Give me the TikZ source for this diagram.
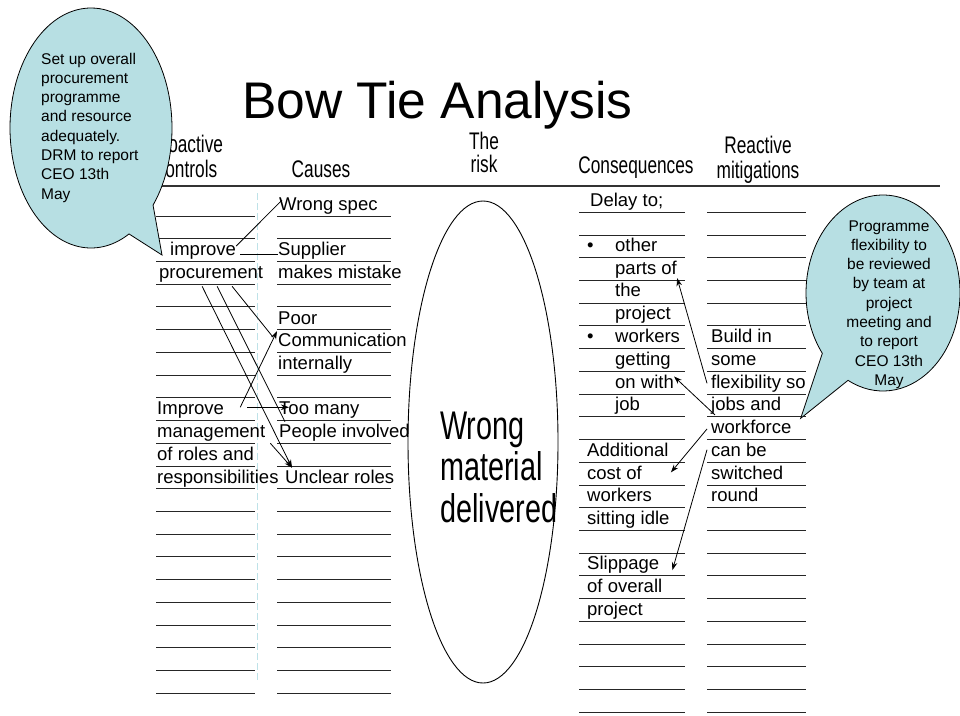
\documentclass[tikz,border=0pt]{standalone}
\usepackage{fontspec}
\setmainfont{Liberation Sans}
\newfontfamily\narrowfont[FakeStretch=0.72]{Liberation Sans}
\usetikzlibrary{arrows.meta}
\definecolor{bubblefill}{RGB}{183,223,227}
\definecolor{guideblue}{RGB}{190,226,232}

\begin{document}
\begin{tikzpicture}[x=1pt, y=-1pt,
        cell/.style={anchor=base west, inner sep=0pt,
                     font=\fontsize{18.5}{22}\selectfont},
        head/.style={inner sep=0pt, align=center,
                     font=\narrowfont\fontsize{24}{25}\selectfont},
        note/.style={inner sep=0pt, font=\fontsize{15.5}{19.3}\selectfont},
        rule/.style={line width=0.9pt, black!85},
        link/.style={line width=0.8pt},
        linkarrow/.style={link, -{Stealth[length=8pt, width=5.5pt]}},
        bubble/.style={draw=black, line width=0.8pt, fill=bubblefill}]
      \useasboundingbox (0,0) rectangle (960,715);

      % title and column heads
      \node[anchor=base, inner sep=0pt, font=\fontsize{51.5}{60}\selectfont]
            (title) at (437.5,118) {Bow Tie Analysis};
      \node[head, anchor=north] (proactive) at (187,134.8) {Proactive\\controls};
      \node[head, anchor=base] (causes) at (321,177) {Causes};
      \node[head, anchor=north, font=\narrowfont\fontsize{24}{23}\selectfont]
            (riskhead) at (484,131.8) {The\\risk};
      \node[head, anchor=base] (conseq) at (636,173) {Consequences};
      \node[head, anchor=north] (reactive) at (758,135.8) {Reactive\\mitigations};
      \draw[line width=1.2pt, black!80] (150,186) -- (940,186);
      \draw[guideblue, line width=1.2pt, dash pattern=on 7pt off 3pt]
            (257.7,193) -- (257.7,683);

      % ruled rows
      \foreach \k in {0,...,21} {
        \draw[rule] (156,{216+22.727*\k}) -- (255,{216+22.727*\k});
        \draw[rule] (277,{216+22.727*\k}) -- (391,{216+22.727*\k});
      }
      \foreach \k in {0,...,22} {
        \draw[rule] (579,{212.3+22.727*\k}) -- (685,{212.3+22.727*\k});
        \draw[rule] (707,{212.3+22.727*\k}) -- (806,{212.3+22.727*\k});
      }

      % the risk
      \draw[line width=0.9pt] (483,442) ellipse[x radius=75, y radius=241];
      \node[anchor=north west, inner sep=0pt, align=left,
            font=\narrowfont\fontsize{40}{41.5}\selectfont]
            (riskname) at (440,411.4) {Wrong\\material\\delivered};

      % proactive controls
      \node[cell] (improve) at (170,255.7) {improve};
      \node[cell] (procure) at (159,278.3) {procurement};
      \node[cell] (improvemgmt) at (157,414.7) {Improve};
      \node[cell] (manage) at (157,437.3) {management};
      \node[cell] (roles) at (157,460) {of roles and};
      \node[cell] (resp) at (157,483.3) {responsibilities};

      % causes
      \node[cell] (wrongspec) at (279,210) {Wrong spec};
      \node[cell] (supplier) at (278,255.7) {Supplier};
      \node[cell] (mistake) at (278,278.3) {makes mistake};
      \node[cell] (poor) at (278,324) {Poor};
      \node[cell] (comm) at (278,346.7) {Communication};
      \node[cell] (internal) at (278,369.7) {internally};
      \node[cell] (toomany) at (279,414.7) {Too many};
      \node[cell] (people) at (279,437.3) {People involved};
      \node[cell] (unclear) at (285,483.3) {Unclear roles};

      % consequences
      \node[cell] (delay) at (590,206.3) {Delay to;};
      \node[cell] (bulleta) at (587,251.3) {•};
      \node[cell] (other) at (615,251.3) {other};
      \node[cell] (parts) at (615,274) {parts of};
      \node[cell] (the) at (615,296.9) {the};
      \node[cell] (projecta) at (615,319.6) {project};
      \node[cell] (bulletb) at (587,342.7) {•};
      \node[cell] (workersa) at (615,342.7) {workers};
      \node[cell] (getting) at (615,365.4) {getting};
      \node[cell] (onwith) at (615,388.1) {on with};
      \node[cell] (job) at (615,410.9) {job};
      \node[cell] (additional) at (587,456.3) {Additional};
      \node[cell] (costof) at (587,479) {cost of};
      \node[cell] (workersb) at (587,501.8) {workers};
      \node[cell] (idle) at (587,524.5) {sitting idle};
      \node[cell] (slippage) at (587,569.9) {Slippage};
      \node[cell] (overall) at (587,592.7) {of overall};
      \node[cell] (projectb) at (587,615.4) {project};

      % reactive mitigations
      \node[cell] (buildin) at (711,342.7) {Build in};
      \node[cell] (some) at (711,365.4) {some};
      \node[cell] (flex) at (711,388.1) {flexibility so};
      \node[cell] (jobs) at (711,410.9) {jobs and};
      \node[cell] (workforce) at (711,433.6) {workforce};
      \node[cell] (canbe) at (711,456.3) {can be};
      \node[cell] (switched) at (711,479) {switched};
      \node[cell] (round) at (711,501.8) {round};

      % links, left wing
      \draw[link] ([yshift=-4pt]improve.north east)
            -- ([xshift=3pt,yshift=-3pt]wrongspec.north west);
      \draw[link] ([xshift=4pt,yshift=-3pt]improve.east) -- ([yshift=-3pt]supplier.west);
      \draw[link] ([xshift=21pt,yshift=-4pt]procure.south)
            -- ([xshift=-5pt,yshift=3pt]comm.west);
      \draw[link] ([xshift=6pt,yshift=-4pt]procure.south)
            -- ([xshift=6pt,yshift=2pt]people.north west);
      \draw[linkarrow] ([xshift=-9pt,yshift=-4pt]procure.south)
            -- ([xshift=7pt,yshift=2pt]unclear.north west);
      \draw[linkarrow] ([xshift=16pt,yshift=3pt]improvemgmt.east)
            -- ([xshift=-1pt,yshift=2pt]comm.north west);
      \draw[linkarrow] ([xshift=23pt,yshift=3pt]improvemgmt.east)
            -- ([xshift=10pt,yshift=3pt]toomany.west);
      \draw[linkarrow] ([xshift=5pt,yshift=-2pt]manage.south east)
            -- ([xshift=7pt,yshift=2pt]unclear.north west);

      % links, right wing
      \draw[linkarrow] ([xshift=-4pt]flex.west) -- (parts.south east);
      \draw[linkarrow] ([xshift=4pt]jobs.south west) -- ([yshift=5pt]onwith.east);
      \draw[linkarrow] ([xshift=-4pt,yshift=-2pt]workforce.west)
            -- ([xshift=29pt]costof.east);
      \draw[linkarrow] ([xshift=-4pt]canbe.west)
            -- ([xshift=13pt,yshift=-5pt]slippage.east);

      % callouts
      \filldraw[bubble] (162,255) -- ([shift={(91,128)}]40:81 and 120)
            arc[start angle=40, end angle=-298, x radius=81, y radius=120] -- cycle;
      \node[note, anchor=north west, align=left] (procnote) at (41,52.6)
            {Set up overall\\procurement\\programme\\and resource\\adequately.\\DRM to report\\CEO 13th\\May};
      \filldraw[bubble] (800.7,418.3) -- ([shift={(883,293)}]142:77 and 98)
            arc[start angle=142, end angle=477, x radius=77, y radius=98] -- cycle;
      \node[note, anchor=north, align=center] (flexnote) at (889,220.2)
            {Programme\\flexibility to\\be reviewed\\by team at\\project\\meeting and\\to report\\CEO 13th\\May};
    \end{tikzpicture}
\end{document}
